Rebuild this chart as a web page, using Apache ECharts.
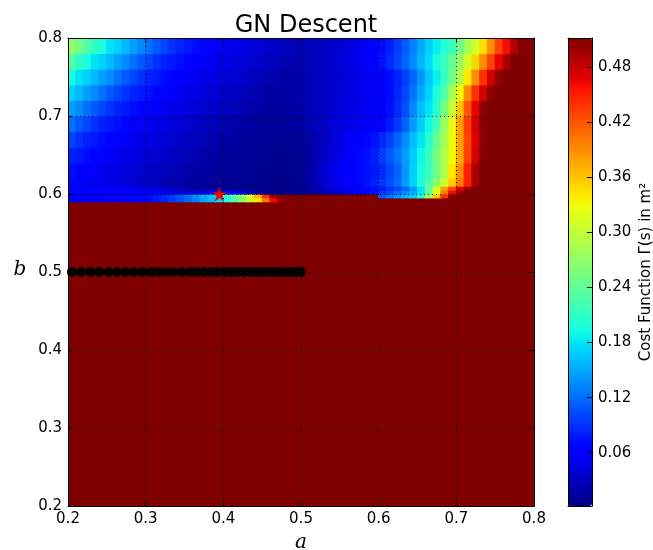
<!DOCTYPE html>
<html><head><meta charset="utf-8">
<script src="https://cdn.jsdelivr.net/npm/echarts@6/dist/echarts.min.js"></script>
<style>html,body{margin:0;padding:0;background:#fff}#chart{width:653px;height:550px}</style>
</head><body><div id="chart"></div>
<script>
// ---- data ----
const aEdges = [0.20,0.21,0.22,0.23,0.24,0.25,0.26,0.27,0.28,0.29,
  0.30,0.31,0.32,0.33,0.34,0.35,0.36,0.37,0.38,0.39,
  0.40,0.41,0.42,0.43,0.44,0.45,0.46,0.47,0.48,0.49,
  0.50,0.51,0.52,0.53,0.54,0.55,0.56,0.57,0.58,0.59,
  0.60,0.61,0.62,0.63,0.64,0.65,0.66,0.67,0.68,0.69,
  0.70,0.71,0.72,0.73,0.74,0.75,0.76,0.77,0.78,0.79,0.80];
const bEdges = [0.59,0.595,0.60,0.605,0.61,0.62,0.64,0.66,0.68,0.70,0.72,0.74,0.76,0.78,0.80];
const floorCost = 0.512;          // whole region b < 0.59
const floorB = [0.2, 0.59];
const costRows = [
 [0.056,0.056,0.056,0.056,0.056,0.057,0.059,0.061,0.064,0.068,
  0.07,0.076,0.084,0.094,0.105,0.117,0.13,0.145,0.158,0.172,
  0.2,0.23,0.265,0.3,0.34,0.4,0.46,0.5,0.512,0.512,
  0.512,0.512,0.512,0.512,0.512,0.512,0.512,0.512,0.512,0.512,
  0.512,0.512,0.512,0.512,0.512,0.512,0.512,0.512,0.512,0.512,
  0.512,0.512,0.512,0.512,0.512,0.512,0.512,0.512,0.512,0.512],
 [0.057,0.057,0.057,0.057,0.057,0.058,0.06,0.062,0.065,0.068,
  0.07,0.078,0.087,0.097,0.11,0.122,0.135,0.15,0.163,0.178,
  0.21,0.24,0.27,0.31,0.37,0.44,0.5,0.512,0.512,0.512,
  0.512,0.512,0.512,0.512,0.512,0.512,0.512,0.512,0.512,0.512,
  0.11,0.125,0.14,0.155,0.17,0.2,0.28,0.36,0.44,0.512,
  0.512,0.512,0.512,0.512,0.512,0.512,0.512,0.512,0.512,0.512],
 [0.058,0.058,0.058,0.057,0.057,0.057,0.056,0.056,0.055,0.054,
  0.052,0.05,0.047,0.044,0.04,0.038,0.04,0.05,0.06,0.07,
  0.07,0.06,0.045,0.03,0.02,0.012,0.008,0.007,0.007,0.008,
  0.01,0.014,0.018,0.024,0.03,0.038,0.046,0.055,0.065,0.075,
  0.09,0.105,0.12,0.135,0.15,0.18,0.24,0.32,0.4,0.46,
  0.5,0.512,0.512,0.512,0.512,0.512,0.512,0.512,0.512,0.512],
 [0.058,0.058,0.057,0.057,0.056,0.055,0.054,0.053,0.051,0.049,
  0.046,0.042,0.037,0.032,0.027,0.022,0.018,0.015,0.012,0.01,
  0.008,0.007,0.006,0.006,0.005,0.005,0.005,0.006,0.007,0.009,
  0.015,0.022,0.03,0.038,0.045,0.05,0.055,0.06,0.065,0.072,
  0.08,0.09,0.1,0.115,0.14,0.18,0.24,0.31,0.38,0.43,
  0.47,0.5,0.512,0.512,0.512,0.512,0.512,0.512,0.512,0.512],
 [0.062,0.058,0.055,0.052,0.05,0.047,0.044,0.041,0.038,0.035,
  0.031,0.027,0.024,0.021,0.019,0.017,0.015,0.014,0.013,0.012,
  0.011,0.01,0.009,0.009,0.008,0.008,0.007,0.007,0.007,0.008,
  0.012,0.02,0.03,0.04,0.048,0.055,0.061,0.067,0.074,0.082,
  0.092,0.105,0.12,0.145,0.17,0.2,0.23,0.265,0.31,0.355,
  0.4,0.45,0.495,0.512,0.512,0.512,0.512,0.512,0.512,0.512],
 [0.072,0.065,0.059,0.055,0.052,0.048,0.046,0.043,0.04,0.037,
  0.034,0.031,0.028,0.025,0.022,0.02,0.018,0.017,0.015,0.014,
  0.013,0.012,0.011,0.01,0.009,0.009,0.008,0.008,0.008,0.01,
  0.014,0.022,0.032,0.043,0.052,0.058,0.063,0.068,0.073,0.078,
  0.086,0.1,0.115,0.14,0.17,0.195,0.215,0.25,0.29,0.34,
  0.39,0.45,0.495,0.512,0.512,0.512,0.512,0.512,0.512,0.512],
 [0.082,0.078,0.072,0.065,0.059,0.055,0.052,0.048,0.046,0.043,
  0.04,0.037,0.034,0.031,0.028,0.025,0.022,0.02,0.018,0.017,
  0.015,0.014,0.013,0.012,0.011,0.01,0.009,0.009,0.009,0.01,
  0.014,0.02,0.028,0.037,0.045,0.053,0.06,0.066,0.072,0.082,
  0.095,0.11,0.125,0.145,0.168,0.19,0.215,0.255,0.29,0.325,
  0.375,0.43,0.475,0.51,0.512,0.512,0.512,0.512,0.512,0.512],
 [0.10,0.09,0.082,0.078,0.072,0.065,0.059,0.055,0.052,0.048,
  0.046,0.043,0.04,0.037,0.034,0.031,0.028,0.025,0.022,0.02,
  0.018,0.017,0.015,0.014,0.013,0.012,0.011,0.011,0.011,0.012,
  0.015,0.02,0.027,0.035,0.042,0.05,0.055,0.06,0.066,0.074,
  0.085,0.098,0.115,0.135,0.16,0.18,0.205,0.24,0.285,0.325,
  0.38,0.43,0.47,0.505,0.512,0.512,0.512,0.512,0.512,0.512],
 [0.122,0.11,0.10,0.09,0.082,0.078,0.072,0.065,0.059,0.055,
  0.052,0.048,0.046,0.043,0.04,0.037,0.034,0.031,0.028,0.025,
  0.022,0.02,0.018,0.017,0.015,0.014,0.014,0.014,0.015,0.017,
  0.02,0.025,0.03,0.036,0.041,0.045,0.048,0.051,0.055,0.058,
  0.064,0.078,0.094,0.115,0.145,0.168,0.19,0.22,0.275,0.32,
  0.38,0.435,0.475,0.51,0.512,0.512,0.512,0.512,0.512,0.512],
 [0.145,0.135,0.122,0.11,0.10,0.09,0.082,0.078,0.072,0.065,
  0.059,0.055,0.052,0.048,0.046,0.043,0.04,0.037,0.034,0.031,
  0.028,0.025,0.022,0.02,0.018,0.017,0.016,0.016,0.017,0.019,
  0.023,0.026,0.031,0.035,0.04,0.043,0.046,0.05,0.053,0.057,
  0.062,0.072,0.087,0.105,0.135,0.16,0.18,0.205,0.255,0.30,
  0.36,0.42,0.465,0.505,0.512,0.512,0.512,0.512,0.512,0.512],
 [0.17,0.158,0.145,0.135,0.122,0.11,0.10,0.09,0.082,0.078,
  0.072,0.065,0.059,0.055,0.052,0.048,0.046,0.043,0.04,0.037,
  0.034,0.031,0.028,0.025,0.022,0.02,0.018,0.018,0.019,0.021,
  0.023,0.027,0.03,0.034,0.038,0.042,0.045,0.048,0.052,0.056,
  0.062,0.07,0.085,0.10,0.125,0.15,0.17,0.195,0.23,0.28,
  0.33,0.39,0.44,0.475,0.505,0.512,0.512,0.512,0.512,0.512],
 [0.195,0.18,0.17,0.158,0.145,0.135,0.122,0.11,0.10,0.09,
  0.082,0.078,0.072,0.065,0.059,0.055,0.052,0.048,0.046,0.043,
  0.04,0.037,0.034,0.031,0.028,0.025,0.022,0.02,0.019,0.02,
  0.024,0.027,0.03,0.033,0.036,0.04,0.044,0.047,0.052,0.055,
  0.062,0.07,0.082,0.097,0.116,0.14,0.165,0.186,0.214,0.248,
  0.29,0.34,0.39,0.44,0.475,0.505,0.512,0.512,0.512,0.512],
 [0.23,0.21,0.195,0.18,0.17,0.158,0.145,0.135,0.122,0.11,
  0.10,0.09,0.082,0.078,0.072,0.065,0.059,0.055,0.052,0.048,
  0.046,0.043,0.04,0.037,0.034,0.031,0.028,0.025,0.023,0.022,
  0.025,0.028,0.031,0.034,0.037,0.041,0.046,0.051,0.057,0.064,
  0.074,0.086,0.10,0.116,0.136,0.156,0.176,0.196,0.216,0.24,
  0.275,0.31,0.35,0.39,0.43,0.465,0.495,0.512,0.512,0.512],
 [0.27,0.25,0.23,0.21,0.195,0.18,0.17,0.158,0.145,0.135,
  0.122,0.11,0.10,0.09,0.082,0.078,0.072,0.065,0.059,0.055,
  0.052,0.048,0.046,0.043,0.04,0.037,0.034,0.031,0.028,0.026,
  0.028,0.03,0.031,0.033,0.035,0.038,0.043,0.05,0.055,0.062,
  0.07,0.08,0.095,0.11,0.13,0.15,0.17,0.185,0.20,0.215,
  0.25,0.28,0.31,0.345,0.39,0.43,0.46,0.49,0.51,0.512]
];
const pathA = [0.205,0.217,0.229,0.240,0.252,0.263,0.274,0.285,0.296,0.307,
  0.317,0.327,0.337,0.347,0.357,0.366,0.375,0.384,0.393,0.402,
  0.410,0.418,0.426,0.434,0.442,0.449,0.456,0.463,0.470,0.476,
  0.482,0.488,0.493,0.497,0.500];
const pathB = [0.5,0.5,0.5,0.5,0.5,0.5,0.5,0.5,0.5,0.5,
  0.5,0.5,0.5,0.5,0.5,0.5,0.5,0.5,0.5,0.5,
  0.5,0.5,0.5,0.5,0.5,0.5,0.5,0.5,0.5,0.5,
  0.5,0.5,0.5,0.5,0.5];
const starA = [0.395];
const starB = [0.600];
const costMin = 0.0019, costMax = 0.512;
const colorbarTicks = [0.06,0.12,0.18,0.24,0.30,0.36,0.42,0.48];

// ---- jet colormap (matplotlib segment data) ----
function seg(t, pts){
  for (let k = 1; k < pts.length; k++){
    if (t <= pts[k][0]){
      const [x0,y0] = pts[k-1], [x1,y1] = pts[k];
      return y0 + (y1-y0)*(t-x0)/(x1-x0);
    }
  }
  return pts[pts.length-1][1];
}
const jetColors = [];
for (let k = 0; k <= 100; k++){
  const t = k/100;
  const r = seg(t, [[0,0],[0.35,0],[0.66,1],[0.89,1],[1,0.5]]);
  const g = seg(t, [[0,0],[0.125,0],[0.375,1],[0.64,1],[0.91,0],[1,0]]);
  const b = seg(t, [[0,0.5],[0.11,1],[0.34,1],[0.65,0],[1,0]]);
  jetColors.push('rgb(' + Math.round(r*255) + ',' + Math.round(g*255) + ',' + Math.round(b*255) + ')');
}

// ---- cells ----
const cells = [[aEdges[0], aEdges[aEdges.length-1], floorB[0], floorB[1], floorCost]];
costRows.forEach((row, r) => {
  row.forEach((v, i) => {
    cells.push([aEdges[i], aEdges[i+1], bEdges[r], bEdges[r+1], v]);
  });
});

const FONT = 'DejaVu Sans';
const chart = echarts.init(document.getElementById('chart'), null, {renderer: 'canvas'});
const mainAxisCommon = {
  type: 'value', min: 0.2, max: 0.8, interval: 0.1, gridIndex: 0, z: 3,
  axisLine: {show: true, onZero: false, lineStyle: {color: '#000', width: 1}},
  axisTick: {show: true, inside: true, length: 5, lineStyle: {color: '#000', width: 1}},
};
const option = {
  animation: false,
  backgroundColor: '#fff',
  title: {
    text: 'GN Descent', left: 301, top: 9, textAlign: 'center',
    textStyle: {fontFamily: FONT, fontSize: 24, fontWeight: 'normal', color: '#000'}
  },
  grid: [
    {left: 68, top: 38, width: 466, height: 468, show: false},
    {left: 568, top: 38, width: 24, height: 468, show: false}
  ],
  xAxis: [
    Object.assign({}, mainAxisCommon, {
      position: 'bottom',
      axisLabel: {color: '#000', fontSize: 15, fontFamily: FONT, margin: 6, formatter: v => v.toFixed(1)},
      splitLine: {show: true, lineStyle: {color: '#000', width: 1, type: [1, 3]}}
    }),
    Object.assign({}, mainAxisCommon, {
      position: 'top', axisLabel: {show: false}, splitLine: {show: false}
    }),
    {type: 'value', gridIndex: 1, min: 0, max: 1, position: 'bottom', z: 10,
      axisLine: {show: true, onZero: false, lineStyle: {color: '#000', width: 1}},
      axisTick: {show: false}, axisLabel: {show: false}, splitLine: {show: false}},
    {type: 'value', gridIndex: 1, min: 0, max: 1, position: 'top', z: 10,
      axisLine: {show: true, onZero: false, lineStyle: {color: '#000', width: 1}},
      axisTick: {show: false}, axisLabel: {show: false}, splitLine: {show: false}}
  ],
  yAxis: [
    Object.assign({}, mainAxisCommon, {
      position: 'left',
      axisLabel: {color: '#000', fontSize: 15, fontFamily: FONT, margin: 6, formatter: v => v.toFixed(1)},
      splitLine: {show: true, lineStyle: {color: '#000', width: 1, type: [1, 3]}}
    }),
    Object.assign({}, mainAxisCommon, {
      position: 'right', axisLabel: {show: false}, splitLine: {show: false}
    }),
    {type: 'value', gridIndex: 1, min: costMin, max: costMax, position: 'left', z: 10,
      axisLine: {show: true, onZero: false, lineStyle: {color: '#000', width: 1}},
      axisTick: {show: false}, axisLabel: {show: false}, splitLine: {show: false}},
    {type: 'value', gridIndex: 1, min: costMin, max: costMax, position: 'right', z: 10,
      axisLine: {show: true, onZero: false, lineStyle: {color: '#000', width: 1}},
      axisTick: {show: true, inside: true, length: 5, customValues: colorbarTicks, lineStyle: {color: '#000', width: 1}},
      axisLabel: {show: true, customValues: colorbarTicks, color: '#000', fontSize: 15, fontFamily: FONT, margin: 6,
        formatter: v => Number(v).toFixed(2)},
      splitLine: {show: false}}
  ],
  visualMap: {
    type: 'continuous', min: costMin, max: costMax, dimension: 4, seriesIndex: 0,
    inRange: {color: jetColors}, calculable: false, hoverLink: false,
    left: 568, top: 38, padding: 0, itemWidth: 24, itemHeight: 468, text: null, z: 4
  },
  graphic: [
    {type: 'text', x: 301, y: 543, style: {text: 'a', x: 0, y: 0, align: 'center', verticalAlign: 'middle',
      font: 'italic 20px "DejaVu Serif"', fill: '#000'}},
    {type: 'text', x: 20, y: 270, style: {text: 'b', x: 0, y: 0, align: 'center', verticalAlign: 'middle',
      font: 'italic 20px "DejaVu Serif"', fill: '#000'}},
    {type: 'text', x: 646, y: 272, rotation: Math.PI/2, style: {text: 'Cost Function Γ(s) in m²', x: 0, y: 0,
      align: 'center', verticalAlign: 'middle', font: '15px "DejaVu Sans"', fill: '#000'}}
  ],
  series: [
    {
      type: 'custom', xAxisIndex: 0, yAxisIndex: 0, z: 1, clip: true, silent: true,
      encode: {x: [0, 1], y: [2, 3]},
      data: cells,
      renderItem: function (params, api) {
        const p0 = api.coord([api.value(0), api.value(3)]);
        const p1 = api.coord([api.value(1), api.value(2)]);
        return {type: 'rect',
          shape: {x: p0[0] - 0.5, y: p0[1] - 0.5, width: p1[0] - p0[0] + 1, height: p1[1] - p0[1] + 1},
          style: {fill: api.visual('color'), stroke: null}};
      }
    },
    {
      type: 'scatter', xAxisIndex: 0, yAxisIndex: 0, z: 5, silent: true,
      symbol: 'circle', symbolSize: 10,
      itemStyle: {color: '#000', opacity: 1},
      data: pathA.map((a, i) => [a, pathB[i]])
    },
    {
      type: 'scatter', xAxisIndex: 0, yAxisIndex: 0, z: 6, silent: true,
      symbol: 'path://M50,0 L61,35 L98,35 L68,57 L79,91 L50,70 L21,91 L32,57 L2,35 L39,35 Z',
      symbolSize: 14,
      itemStyle: {color: '#ff0000', borderColor: '#b00000', borderWidth: 0.5, opacity: 1},
      data: starA.map((a, i) => [a, starB[i]])
    }
  ]
};
chart.setOption(option);
</script></body></html>
